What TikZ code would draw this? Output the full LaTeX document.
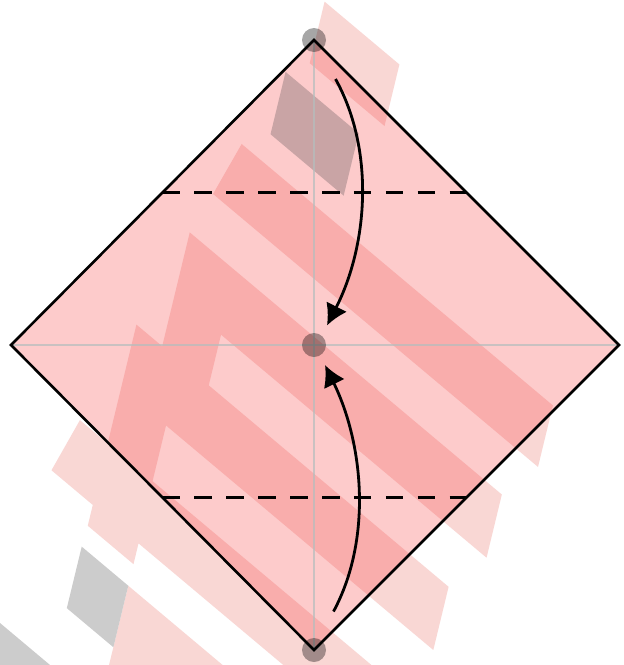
\documentclass[tikz,border=0pt]{standalone}
\usetikzlibrary{arrows.meta,calc}
\definecolor{palepink}{RGB}{249,215,212}
\definecolor{palegrey}{RGB}{204,204,204}
\definecolor{sheet}{RGB}{253,203,203}
\definecolor{darkpink}{RGB}{249,173,172}
\definecolor{darkgrey}{RGB}{201,164,165}
\definecolor{guide}{RGB}{180,190,190}
\newcommand{\ghostlayer}[2]{%
  \fill[#1] (325,-271) -- (415,-271) -- (415,-197) -- (325,-197) -- cycle;
  \fill[#1] (276.5,-59) -- (651,-59) -- (651,15) -- (260,15) -- cycle;
  \fill[#1] (246,73) -- (621.5,73) -- (621.5,149) -- (302,149) -- (302,211) -- (246,211) -- cycle;
  \fill[#1] (215,210) -- (590.6,210) -- (590.6,286) -- (269,286) -- (269,353) -- (560,353)
     -- (560,427) -- (270,427) -- (270,452) -- (215,452) -- (215,427) -- (165.3,427)
     -- (181.6,353) -- (215,353) -- cycle;
  \fill[#1] (270,478) -- (520,478) -- (520,720) -- (270,720) -- cycle;
  \fill[#2] (303,-168) -- (391,-168) -- (391,-93) -- (303,-93) -- cycle;
  \fill[#2] (214,478) -- (270,478) -- (270,552) -- (214,552) -- cycle;
  \fill[#2] (100,623) -- (214,623) -- (214,720) -- (100,720) -- cycle;
}
\tikzset{
  ghost/.style={x={(0.83107pt,-0.69810pt)}, y={(-0.20112pt,-0.83106pt)}},
  outline/.style={draw=black, line width=2.6pt, line join=miter},
  foldline/.style={draw=black, line width=2.8pt, dash pattern=on 17.5pt off 14.4pt},
  guideline/.style={draw=guide, line width=2.2pt, draw opacity=0.7},
  pointdot/.style={fill=black, fill opacity=0.35},
  foldarrow/.style={draw=black, line width=2.8pt, -{Latex[length=21pt,width=23pt]}},
}
\begin{document}
\begin{tikzpicture}[x=1pt,y=-1pt]
\useasboundingbox (0,0) rectangle (624,665);
\fill[white] (0,0) rectangle (624,665);
\coordinate (T) at (314,40);
\coordinate (L) at (11,345);
\coordinate (R) at (619,345);
\coordinate (B) at (314,650);
\coordinate (C) at (314,345);
\coordinate (d1l) at ($(T)!0.5!(L)$);
\coordinate (d1r) at ($(T)!0.5!(R)$);
\coordinate (d2l) at ($(B)!0.5!(L)$);
\coordinate (d2r) at ($(B)!0.5!(R)$);
\coordinate (a1s) at (335.5,79);
\coordinate (a1e) at (327,325.5);
\coordinate (a2s) at (333.5,611.5);
\coordinate (a2e) at (325,365);
% ghost layer outside the sheet
\begin{scope}[ghost]
  \ghostlayer{palepink}{palegrey}
\end{scope}
% the sheet
\fill[sheet] (T) -- (R) -- (B) -- (L) -- cycle;
\begin{scope}
  \clip (T) -- (R) -- (B) -- (L) -- cycle;
  \begin{scope}[ghost]
    \ghostlayer{darkpink}{darkgrey}
  \end{scope}
\end{scope}
% guide lines
\draw[guideline] (T) -- (B);
\draw[guideline] (L) -- (R);
% fold lines
\draw[foldline] (d1l) -- (d1r);
\draw[foldline] (d2l) -- (d2r);
% outline
\draw[outline] (T) -- (R) -- (B) -- (L) -- cycle;
% arrows
\draw[foldarrow] (a1s) .. controls (375,150) and (368,245) .. (a1e);
\draw[foldarrow] (a2s) .. controls (372,540) and (364,445) .. (a2e);
% points
\fill[pointdot] (T) circle[radius=12pt];
\fill[pointdot] (C) circle[radius=12pt];
\fill[pointdot] (B) circle[radius=12pt];
\end{tikzpicture}
\end{document}
